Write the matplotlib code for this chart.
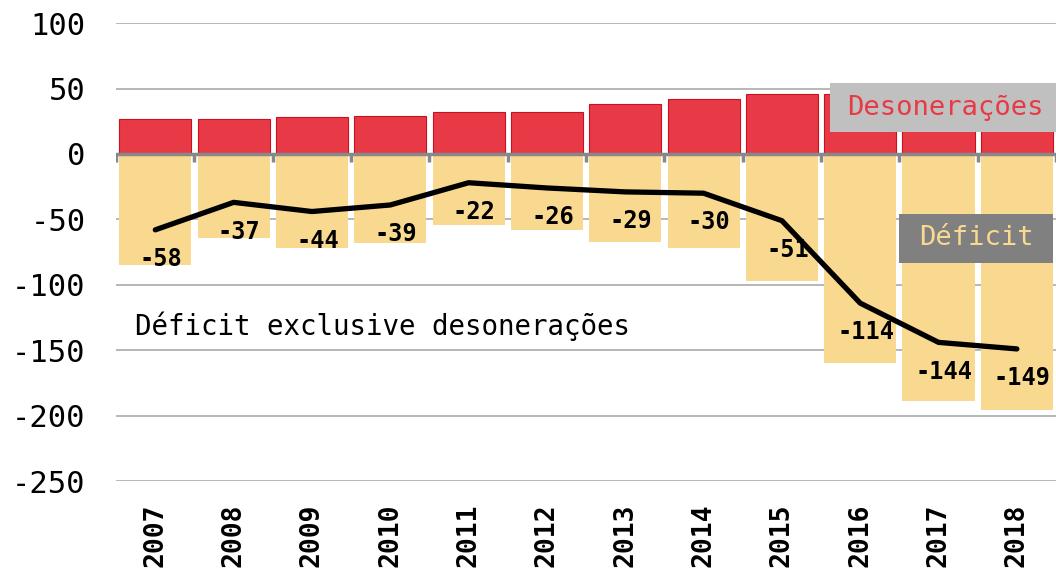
import numpy as np
import matplotlib
matplotlib.use("Agg")
import matplotlib.pyplot as plt
from matplotlib.patches import Rectangle

# data (R$ bi)
years = ['2007', '2008', '2009', '2010', '2011', '2012',
         '2013', '2014', '2015', '2016', '2017', '2018']
desoneracoes = [27, 27, 28, 29, 32, 32, 38, 42, 46, 46, 45, 47]
deficit_excl = [-58, -37, -44, -39, -22, -26, -29, -30, -51, -114, -144, -149]
deficit = [d - s for d, s in zip(deficit_excl, desoneracoes)]

plt.rcParams['font.family'] = ['DejaVu Sans Mono']
plt.rcParams['axes.unicode_minus'] = False

red = '#e83a46'
yellow = '#f8d98f'

fig = plt.figure(figsize=(10.56, 5.70), dpi=100)
ax = fig.add_axes([0.11, 0.156, 0.89, 0.8035])

x = np.arange(len(years))

# grid
for v in range(-250, 101, 50):
    if v != 0:
        ax.axhline(v, color='#aaaaaa', lw=1.2, zorder=0)

ax.bar(x, desoneracoes, width=0.92, color=red, edgecolor='#c8101e', linewidth=0.8, zorder=2)
ax.bar(x, deficit, width=0.92, color=yellow, linewidth=0, zorder=2)

# zero line with ticks
ax.axhline(0, color='#888888', lw=2.5, zorder=3)
for b in np.arange(-0.5, len(years), 1.0):
    ax.plot([b, b], [0, -6], color='#888888', lw=2.5, zorder=3, solid_capstyle='butt')

ax.plot(x, deficit_excl, color='black', lw=3.8, zorder=4, solid_capstyle='round')

for xi, v in zip(x, deficit_excl):
    ax.annotate(str(v), (xi, v), xytext=(4, -21), textcoords='offset points',
                ha='center', va='center', fontsize=17, fontweight='bold', zorder=5)

ax.text(-0.26, -132, 'Déficit exclusive desonerações', fontsize=19.8,
        va='center', ha='left', zorder=5)

ax.set_xlim(-0.5, len(years) - 0.5)
ax.set_ylim(-250, 100)
ax.set_yticks(range(-250, 101, 50))
ax.set_xticks(x)
ax.set_xticklabels(years, rotation=90, fontsize=19, fontweight='bold', va='top')
ax.tick_params(axis='x', length=0, pad=16)
ax.tick_params(axis='y', length=0, pad=22, labelsize=22)
for s in ax.spines.values():
    s.set_visible(False)

# legend boxes
fig.patches.append(Rectangle((0.786, 0.768), 0.214, 0.086, transform=fig.transFigure,
                             facecolor='#c0c0c0', edgecolor='none', zorder=6))
fig.text(0.8954, 0.8114, 'Desonerações', color=red, fontsize=19.5,
         ha='center', va='center', zorder=7)
fig.patches.append(Rectangle((0.851, 0.5386), 0.146, 0.086, transform=fig.transFigure,
                             facecolor='#808080', edgecolor='none', zorder=6))
fig.text(0.9247, 0.5816, 'Déficit', color=yellow, fontsize=19.5,
         ha='center', va='center', zorder=7)

fig.savefig('out.png', dpi=100)
